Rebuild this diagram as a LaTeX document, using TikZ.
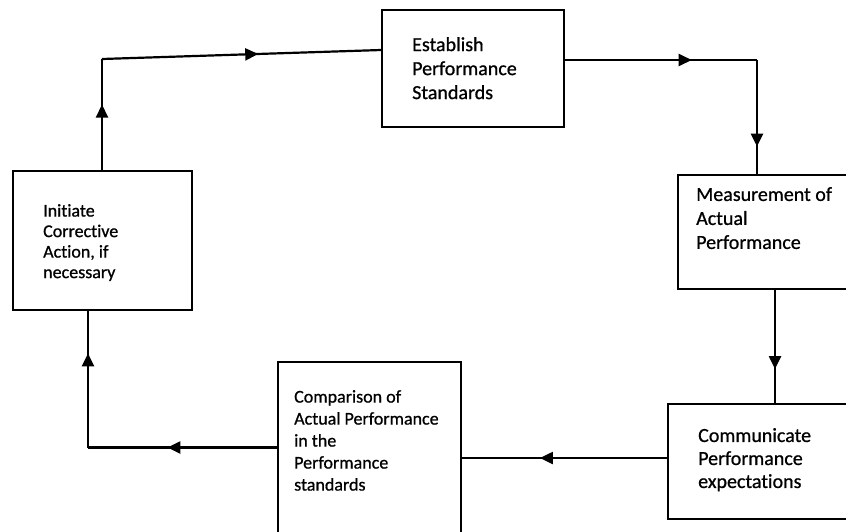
\documentclass[tikz,border=0pt]{standalone}
\usepackage{fontspec}
\setmainfont{Carlito}[Ligatures=NoCommon,FakeBold=0.8]
\usetikzlibrary{decorations.markings,arrows.meta,calc}
\begin{document}
\begin{tikzpicture}[x=1pt,y=1pt,
  box/.style={draw,line width=2pt,inner sep=0pt},
  lbl/.style={anchor=north west,inner sep=0pt,align=left},
  conn/.style={line width=2.2pt},
  marrow/.style={postaction={decorate},decoration={markings,
     mark=at position #1 with {\arrow{Triangle[length=13pt,width=12pt]}}}}]
\useasboundingbox[fill=white] (0,0) rectangle (846,-531);
% boxes
\node[box,minimum width=182pt,minimum height=117pt] (b1) at (473,-68.5) {};
\node[box,minimum width=172pt,minimum height=114pt] (b2) at (764,-232) {};
\node[box,minimum width=182pt,minimum height=115pt] (b3) at (759,-461.5) {};
\node[box,minimum width=183pt,minimum height=171pt] (b4) at (369.5,-447.5) {};
\node[box,minimum width=179pt,minimum height=139pt] (b5) at (102.5,-240.5) {};
% labels
\node[lbl,font=\fontsize{20}{24}\selectfont] (t1) at (412,-37) {Establish\\Performance\\Standards};
\node[lbl,font=\fontsize{20}{24}\selectfont] (t2) at (696,-187) {Measurement of\\Actual\\Performance};
\node[lbl,font=\fontsize{20}{23}\selectfont] (t3) at (698,-428) {Communicate\\Performance\\expectations};
\node[lbl,font=\fontsize{18}{22}\selectfont] (t4) at (294,-390) {Comparison of\\Actual Performance\\in the\\Performance\\standards};
\node[lbl,font=\fontsize{18}{20.5}\selectfont] (t5) at (43,-204) {Initiate\\Corrective\\Action, if\\necessary};
% connector corners
\coordinate (k1) at (102,-59);
\coordinate (k2) at (757,-60);
\coordinate (k3) at (88,-447.5);
% connectors
\draw[conn,marrow=0.59] (k1 |- b5.north) -- (k1);
\draw[conn,marrow=0.56] (k1) -- ([yshift=18.5pt]b1.west);
\draw[conn,marrow=0.66] ([yshift=8.5pt]b1.east) -- (k2);
\draw[conn,marrow=0.76] (k2) -- (k2 |- b2.north);
\draw[conn,marrow=0.70] ([xshift=11pt]b2.south) -- ([xshift=11pt]b2.south |- b3.north);
\draw[conn,marrow=0.62] ([yshift=3.5pt]b3.west) -- ([yshift=3.5pt]b3.west -| b4.east);
\draw[conn,marrow=0.58] (b4.west) -- (k3);
\draw[conn,marrow=0.69] (k3) -- (k3 |- b5.south);
\end{tikzpicture}
\end{document}
